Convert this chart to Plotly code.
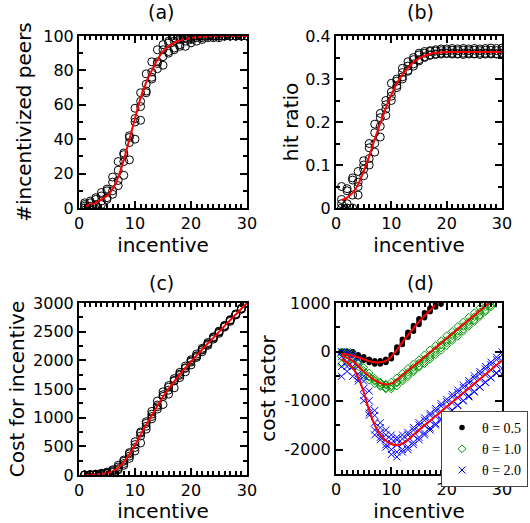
import plotly.graph_objects as go

# ---------------- data ----------------
X = list(range(1, 31))

# (a) number of incentivized peers
PEERS_MEAN = [1, 2, 3, 5, 7, 11, 18, 28, 40, 52, 64, 73, 80, 86, 91, 94, 96, 97.5, 98.3, 98.8,
              99.2, 99.5, 99.7, 99.8, 99.9, 100, 100, 100, 100, 100]
PEERS_RUN1 = [0, 1, 2, 4, 6, 10, 16, 27, 38, 50, 62, 72, 79, 85, 92, 96, 97, 98, 99, 99,
              100, 100, 100, 100, 100, 100, 100, 100, 100, 100]
PEERS_RUN2 = [3, 0, 5, 7, 10, 15, 22, 31, 42, 58, 67, 78, 85, 92, 95, 97, 99, 99, 100, 100,
              100, 100, 100, 100, 100, 100, 100, 100, 100, 100]
PEERS_RUN3 = [1, 4, 1, 2, 5, 8, 13, 19, 28, 40, 51, 67, 75, 84, 88, 90, 93, 95, 97, 98,
              99, 99, 100, 99, 100, 100, 100, 100, 100, 100]
PEERS_RUN4 = [2, 3, 6, 9, 11, 18, 27, 32, 41, 52, 59, 68, 76, 81, 83, 91, 92, 94, 94, 96,
              97, 98, 99, 100, 99, 100, 100, 100, 100, 100]

# (b) hit ratio
HIT_MEAN = [0.018, 0.024, 0.035, 0.055, 0.085, 0.12, 0.16, 0.197, 0.233, 0.263, 0.29, 0.31,
            0.326, 0.339, 0.348, 0.354, 0.358, 0.361, 0.362, 0.363, 0.363, 0.363, 0.363,
            0.363, 0.363, 0.363, 0.363, 0.363, 0.363, 0.363]
HIT_RUN1 = [0.000, 0.010, 0.030, 0.060, 0.090, 0.115, 0.150, 0.190, 0.230, 0.260, 0.285, 0.305,
            0.320, 0.335, 0.345, 0.352, 0.356, 0.358, 0.360, 0.360, 0.360, 0.359, 0.360, 0.360,
            0.359, 0.360, 0.360, 0.360, 0.359, 0.360]
HIT_RUN2 = [0.050, 0.045, 0.070, 0.085, 0.100, 0.150, 0.195, 0.220, 0.250, 0.290, 0.300, 0.325,
            0.340, 0.350, 0.360, 0.364, 0.366, 0.368, 0.370, 0.370, 0.371, 0.370, 0.371, 0.370,
            0.371, 0.370, 0.371, 0.372, 0.371, 0.372]
HIT_RUN3 = [0.020, 0.000, 0.000, 0.030, 0.075, 0.100, 0.130, 0.165, 0.215, 0.250, 0.280, 0.300,
            0.318, 0.330, 0.342, 0.350, 0.355, 0.357, 0.358, 0.359, 0.358, 0.358, 0.357, 0.358,
            0.358, 0.357, 0.358, 0.358, 0.358, 0.358]
HIT_RUN4 = [0.010, 0.040, 0.065, 0.050, 0.110, 0.140, 0.175, 0.210, 0.240, 0.270, 0.295, 0.315,
            0.330, 0.345, 0.356, 0.360, 0.364, 0.365, 0.366, 0.366, 0.367, 0.366, 0.367, 0.366,
            0.367, 0.366, 0.367, 0.367, 0.366, 0.367]

# (c) cost for incentive
COST_MEAN = [0, 4, 9, 20, 35, 66, 126, 224, 360, 520, 704, 876, 1040, 1204, 1365, 1504, 1632,
             1755, 1868, 1976, 2083, 2189, 2293, 2395, 2497, 2600, 2700, 2800, 2900, 3000]
COST_RUN1 = [0, 2, 6, 16, 30, 55, 110, 200, 330, 480, 680, 850, 1020, 1190, 1370, 1530, 1640,
             1760, 1870, 1970, 2080, 2180, 2290, 2390, 2490, 2600, 2700, 2800, 2900, 3000]
COST_RUN2 = [2, 8, 15, 30, 50, 90, 170, 260, 390, 580, 750, 930, 1110, 1290, 1450, 1560, 1680,
             1790, 1900, 2010, 2110, 2210, 2310, 2410, 2510, 2610, 2710, 2810, 2910, 3000]
COST_RUN3 = [0, 0, 3, 8, 20, 45, 90, 170, 290, 420, 560, 800, 980, 1150, 1230, 1410, 1520,
             1700, 1800, 1920, 2050, 2150, 2260, 2370, 2470, 2580, 2680, 2790, 2890, 2990]
COST_RUN4 = [1, 5, 12, 24, 40, 75, 140, 240, 370, 530, 730, 900, 1060, 1220, 1400, 1480, 1650,
             1740, 1860, 1990, 2070, 2190, 2280, 2400, 2500, 2590, 2700, 2800, 2900, 3000]

# (d) cost factor
X05 = list(range(1, 21))
CF05_MEAN = [-40, -50, -80, -110, -150, -190, -215, -215, -185, -100, 40, 200, 340, 480, 620,
             740, 850, 960, 1060, 1160]
CF05_RUN1 = [0, 0, -30, -80, -120, -170, -200, -230, -210, -140, -20, 150, 300, 420, 560, 700,
             820, 920, 980, 1080]
CF05_RUN2 = [0, -10, 0, -60, -100, -150, -180, -180, -150, -60, 100, 260, 400, 540, 680, 800,
             900, 1000, 1100, 1200]
CF05_RUN3 = [-20, 0, -60, -120, -170, -220, -250, -250, -220, -120, 20, 180, 330, 470, 600, 720,
             840, 950, 1050, 1150]
CF05_RUN4 = [0, -30, -10, -90, -140, -180, -220, -200, -170, -80, 60, 220, 360, 500, 650, 760,
             880, 980, 1080, 1180]

X10 = list(range(1, 29))
CF10_MEAN = [-80, -120, -190, -290, -400, -500, -580, -640, -665, -650, -570, -480, -380, -290,
             -200, -105, -10, 85, 180, 275, 370, 465, 560, 655, 750, 845, 940, 1035]
CF10_RUN1 = [0, -50, -100, -200, -320, -430, -540, -620, -680, -690, -620, -520, -420, -320,
             -230, -150, -60, 40, 140, 230, 330, 420, 520, 620, 720, 820, 920, 1020]
CF10_RUN2 = [-250, -150, -280, -380, -480, -580, -650, -710, -740, -720, -640, -560, -470, -380,
             -290, -200, -110, -10, 80, 180, 270, 370, 460, 560, 650, 750, 850, 950]
CF10_RUN3 = [0, 0, -50, -240, -380, -500, -600, -680, -760, -760, -700, -600, -510, -410,
             -320, -240, -150, -60, 30, 130, 230, 320, 420, 520, 620, 720, 820, 920]
CF10_RUN4 = [-100, -200, -220, -300, -420, -520, -580, -640, -660, -620, -530, -440, -340, -250,
             -160, -60, 40, 130, 230, 330, 420, 520, 610, 710, 800, 900, 1000, 1100]

CF20_MEAN = [-150, -220, -330, -520, -820, -1200, -1500, -1700, -1820, -1885, -1910, -1880,
             -1800, -1700, -1600, -1505, -1410, -1315, -1220, -1125, -1030, -935, -840, -745,
             -650, -555, -460, -365, -270, -175]
CF20_RUN1 = [0, -50, -100, -300, -600, -1000, -1300, -1550, -1700, -1780, -1800, -1780, -1700,
             -1600, -1500, -1400, -1300, -1210, -1110, -1020, -920, -830, -730, -640, -540,
             -450, -350, -260, -160, -60]
CF20_RUN2 = [-100, -200, -300, -450, -750, -1150, -1450, -1650, -1800, -1870, -1900, -1880,
             -1810, -1710, -1610, -1510, -1420, -1320, -1230, -1130, -1040, -940, -850, -750,
             -660, -560, -470, -370, -280, -180]
CF20_RUN3 = [-300, -400, -500, -600, -900, -1300, -1600, -1800, -1950, -2000, -2050, -2050,
             -1950, -1850, -1750, -1660, -1560, -1470, -1370, -1280, -1190, -1090, -1000, -900,
             -810, -720, -620, -530, -430, -340]
CF20_RUN4 = [-500, -300, -200, -550, -1000, -1250, -1700, -1750, -1900, -2100, -2150, -2000,
             -2000, -1900, -1800, -1700, -1600, -1500, -1400, -1300, -1200, -1100, -1000, -920,
             -820, -720, -630, -530, -440, -450]
CF20_RUN5 = [0, 0, -50, -150, -500, -800, -1200, -1450, -1600, -1700, -1750, -1700, -1650,
             -1550, -1450, -1350, -1260, -1160, -1060, -970, -870, -780, -680, -590, -490,
             -400, -300, -210, -110, 0]

PANEL_TITLES = ["(a)", "(b)", "(c)", "(d)"]
Y_TITLES = ["#incentivized peers", "hit ratio", "Cost for incentive", "cost factor"]
X_TITLE = "incentive"
LEGEND_NAMES = ["\u03b8 = 0.5", "\u03b8 = 1.0", "\u03b8 = 2.0"]
D_TICKVALS = [-2000, -1000, 0, 1000]
D_TICKTEXT = ["-2000", "-1000", "0", "1000"]

# ---------------- figure ----------------
W, H = 530, 523
FONT = "DejaVu Sans"
fig = go.Figure()


def px_x(p):
    return p / W


def px_y(p):
    return 1 - p / H


open_circle = dict(symbol="circle-open", size=8, color="black", line=dict(width=1, color="black"))
red_line = dict(color="red", width=2, shape="spline", smoothing=0.8)

panels = [
    ("x", "y", [PEERS_RUN1, PEERS_RUN2, PEERS_RUN3, PEERS_RUN4], PEERS_MEAN),
    ("x2", "y2", [HIT_RUN1, HIT_RUN2, HIT_RUN3, HIT_RUN4], HIT_MEAN),
    ("x3", "y3", [COST_RUN1, COST_RUN2, COST_RUN3, COST_RUN4], COST_MEAN),
]
for xa, ya, runs, mean in panels:
    for r in runs:
        fig.add_trace(go.Scatter(x=X, y=r, mode="markers", marker=open_circle,
                                 xaxis=xa, yaxis=ya, showlegend=False))
    fig.add_trace(go.Scatter(x=X, y=mean, mode="lines", line=red_line,
                             xaxis=xa, yaxis=ya, showlegend=False))

# panel (d)
GREEN = "rgb(0,150,0)"
series_d = [
    (X05, [CF05_RUN1, CF05_RUN2, CF05_RUN3, CF05_RUN4], CF05_MEAN,
     dict(symbol="circle", size=5.5, color="black"), LEGEND_NAMES[0]),
    (X10, [CF10_RUN1, CF10_RUN2, CF10_RUN3, CF10_RUN4], CF10_MEAN,
     dict(symbol="diamond-open", size=6, color=GREEN, line=dict(width=1, color=GREEN)), LEGEND_NAMES[1]),
    (X, [CF20_RUN1, CF20_RUN2, CF20_RUN3, CF20_RUN4, CF20_RUN5], CF20_MEAN,
     dict(symbol="x-thin", size=7, color="blue", line=dict(width=1, color="blue")), LEGEND_NAMES[2]),
]
for xs, runs, mean, mk, name in series_d:
    for i, r in enumerate(runs):
        fig.add_trace(go.Scatter(x=xs, y=r, mode="markers", marker=mk, name=name,
                                 legendgroup=name, showlegend=(i == 0),
                                 xaxis="x4", yaxis="y4"))
for xs, runs, mean, mk, name in series_d:
    fig.add_trace(go.Scatter(x=xs, y=mean, mode="lines", line=red_line,
                             xaxis="x4", yaxis="y4", showlegend=False))

# axis geometry (pixel boxes)
boxes = {
    1: (79, 247, 36, 208),
    2: (336, 502, 36, 208),
    3: (79, 247, 303, 475),
    4: (336, 502, 303, 474),
}

axis_common = dict(
    showline=True, linecolor="black", linewidth=2, mirror="allticks",
    ticks="inside", ticklen=7, tickwidth=1.5, tickcolor="black",
    showgrid=False, zeroline=False,
    tickfont=dict(family=FONT, size=16, color="black"),
    automargin=False,
)

minor_y = lambda d: dict(dtick=d, tick0=0, ticks="inside", ticklen=4, tickcolor="black")
yspecs = {
    1: dict(range=[0, 100], dtick=20, tick0=0, minor=minor_y(10)),
    2: dict(range=[0, 0.4], dtick=0.1, tick0=0, tickformat="~g", minor=minor_y(0.05)),
    3: dict(range=[0, 3000], dtick=500, tick0=0, minor=minor_y(250)),
    4: dict(range=[-2500, 1000], tickmode="array", tickvals=D_TICKVALS, ticktext=D_TICKTEXT,
            minor=dict(tickmode="linear", dtick=500, tick0=0, ticks="inside", ticklen=4, tickcolor="black")),
}
ystand = {1: 6, 2: 1, 3: 3, 4: 3}

layout = dict(
    width=W, height=H, margin=dict(l=0, r=0, t=0, b=0),
    paper_bgcolor="white", plot_bgcolor="white",
    font=dict(family=FONT, color="black"),
)
for k in range(1, 5):
    x0, x1, y0, y1 = boxes[k]
    xs = "xaxis" if k == 1 else f"xaxis{k}"
    ys = "yaxis" if k == 1 else f"yaxis{k}"
    anchor_y = "y" if k == 1 else f"y{k}"
    anchor_x = "x" if k == 1 else f"x{k}"
    layout[xs] = dict(axis_common, domain=[px_x(x0), px_x(x1)], anchor=anchor_y,
                      range=[0, 30], dtick=10, tick0=0,
                      minor=dict(dtick=1, tick0=0, ticks="inside", ticklen=4, tickcolor="black"),
                      title=dict(text=X_TITLE, font=dict(family=FONT, size=20, color="black"), standoff=4))
    layout[ys] = dict(axis_common, domain=[px_y(y1), px_y(y0)], anchor=anchor_x,
                      title=dict(text=Y_TITLES[k - 1], font=dict(family=FONT, size=20, color="black"),
                                 standoff=ystand[k]),
                      **yspecs[k])

fig.update_layout(**layout)

title_pos = {1: (161, 12), 2: (420, 12), 3: (161, 283), 4: (420, 283)}
for k in range(1, 5):
    cx, cy = title_pos[k]
    fig.add_annotation(text=PANEL_TITLES[k - 1], x=px_x(cx), y=px_y(cy), xref="paper", yref="paper",
                       xanchor="center", yanchor="middle", showarrow=False,
                       font=dict(family=FONT, size=19, color="black"))

fig.update_layout(legend=dict(
    x=px_x(528), y=px_y(411), xanchor="right", yanchor="top",
    bgcolor="white", bordercolor="#444444", borderwidth=1,
    font=dict(family="Liberation Serif", size=14, color="black"),
    itemsizing="trace", tracegroupgap=0, itemwidth=30,
))

fig.write_html("out.html", config={"displayModeBar": False},
               post_script="document.body.style.margin='0px';document.body.style.padding='0px';")
